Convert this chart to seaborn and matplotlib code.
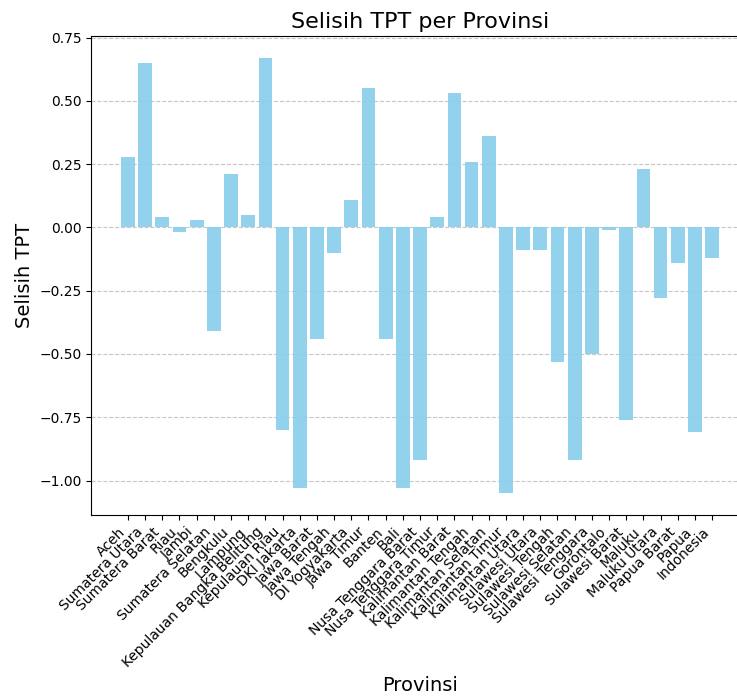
import matplotlib
matplotlib.use("Agg")
import matplotlib.pyplot as plt
import pandas as pd
import seaborn as sns

provinsi = [
    "Aceh", "Sumatera Utara", "Sumatera Barat", "Riau", "Jambi",
    "Sumatera Selatan", "Bengkulu", "Lampung", "Kepulauan Bangka Belitung",
    "Kepulauan Riau", "DKI Jakarta", "Jawa Barat", "Jawa Tengah",
    "DI Yogyakarta", "Jawa Timur", "Banten", "Bali", "Nusa Tenggara Barat",
    "Nusa Tenggara Timur", "Kalimantan Barat", "Kalimantan Tengah",
    "Kalimantan Selatan", "Kalimantan Timur", "Kalimantan Utara",
    "Sulawesi Utara", "Sulawesi Tengah", "Sulawesi Selatan",
    "Sulawesi Tenggara", "Gorontalo", "Sulawesi Barat", "Maluku",
    "Maluku Utara", "Papua Barat", "Papua", "Indonesia",
]

selisih_tpt = [
    0.28, 0.65, 0.04, -0.02, 0.03,
    -0.41, 0.21, 0.05, 0.67,
    -0.80, -1.03, -0.44, -0.10,
    0.11, 0.55, -0.44, -1.03, -0.92,
    0.04, 0.53, 0.26,
    0.36, -1.05, -0.09,
    -0.09, -0.53, -0.92,
    -0.50, -0.01, -0.76, 0.23,
    -0.28, -0.14, -0.81, -0.12,
]

df = pd.DataFrame({"Provinsi": provinsi, "Selisih TPT": selisih_tpt})

fig = plt.figure(figsize=(7.37, 6.98), dpi=100)
ax = fig.add_axes([0.1237, 0.2622, 0.8924, 0.6862])

sns.barplot(data=df, x="Provinsi", y="Selisih TPT", color="skyblue",
            saturation=1, alpha=0.9, width=0.8, ax=ax)

# restore matplotlib's default 5% padding around the bars
ax.autoscale(enable=True, axis="x")
ax.margins(x=0.05)

ax.set_title("Selisih TPT per Provinsi", fontsize=16)
ax.set_xlabel("Provinsi", fontsize=14)
ax.set_ylabel("Selisih TPT", fontsize=14)
plt.setp(ax.get_xticklabels(), rotation=45, ha="right", fontsize=10)
ax.grid(axis="y", linestyle="--", alpha=0.7)
ax.set_axisbelow(True)

fig.savefig("out.png", dpi=100)
